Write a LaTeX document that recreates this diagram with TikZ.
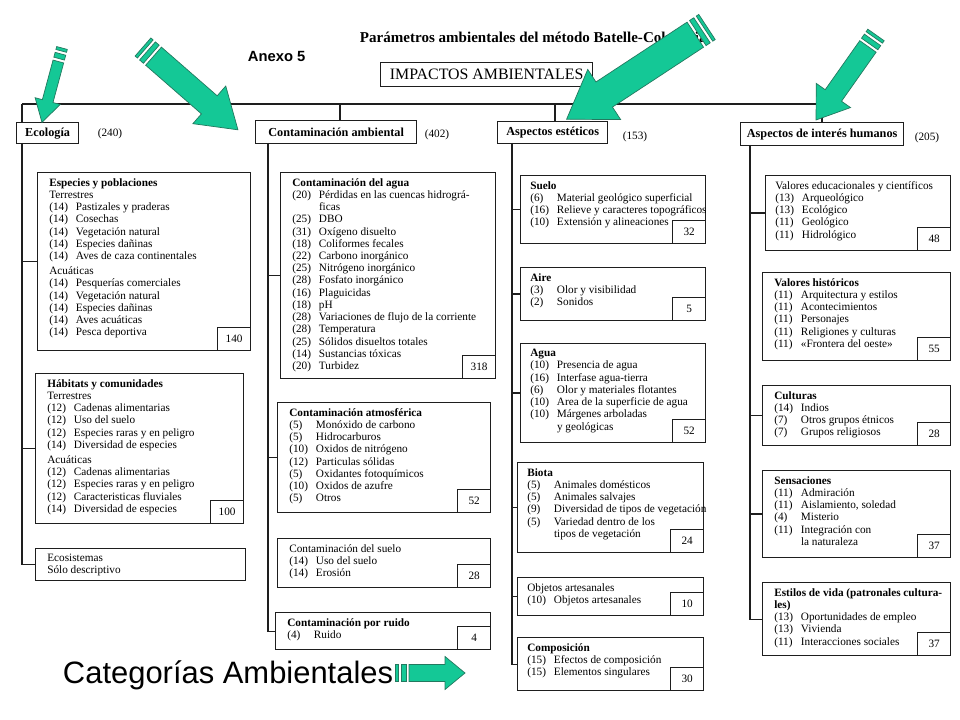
\documentclass[tikz,border=0pt]{standalone}
\usepackage{fontspec}
\setmainfont{Liberation Serif}
\newfontfamily\arialf{Liberation Sans}
\usepackage{tikz}
\usetikzlibrary{calc}
\definecolor{inkline}{HTML}{1E1E1E}
\definecolor{tealfill}{HTML}{14C896}
\definecolor{tealedge}{HTML}{23795F}
\newcommand{\boxfont}{\fontsize{8}{8.7}\selectfont}
\newcommand{\itm}[2]{\makebox[19pt][l]{(#1)}#2}
\newcommand{\cnt}[1]{\hspace*{19pt}#1}
% flecha verde con dos franjas en la cola
\newcommand{\grnarrow}[6]{%
  \begin{scope}[shift={#1},rotate=#2]
    \filldraw[greenarrow] (0,-#4) rectangle (3,#4);
    \filldraw[greenarrow] (6,-#4) rectangle (11,#4);
    \filldraw[greenarrow] (14,-#4) -- ({#3-#6},-#4) -- ({#3-#6},-#5) -- (#3,0)
      -- ({#3-#6},#5) -- ({#3-#6},#4) -- (14,#4) -- cycle;
  \end{scope}}
\tikzset{
  spine/.style={draw=inkline,line width=0.9pt},
  itembox/.style 2 args={draw=inkline,line width=0.9pt,anchor=north west,inner sep=0pt,
    minimum width=#1*0.025cm,minimum height=#2*0.025cm},
  catbox/.style 2 args={itembox={#1}{#2},font=\fontsize{8.7}{10}\selectfont\bfseries},
  cattot/.style={font=\boxfont,inner sep=0pt},
  inbox/.style={anchor=north west,align=left,inner sep=0pt,font=\boxfont},
  score/.style={draw=inkline,line width=0.9pt,anchor=south east,inner sep=0pt,
    minimum width=0.825cm,minimum height=0.575cm,font=\boxfont},
  greenarrow/.style={fill=tealfill,draw=tealedge,line width=0.5pt,line join=miter}
}
\begin{document}
\begin{tikzpicture}[x=0.025cm,y=-0.025cm]
\useasboundingbox[fill=white] (0,0) rectangle (960,720);

% cabecera
\node[anchor=west,font=\fontsize{10.7}{12}\selectfont\bfseries] (titulo) at (355,37)
  {Parámetros ambientales del método Batelle-Columbia};
\node[anchor=west,font=\arialf\bfseries\fontsize{10.5}{12}\selectfont] (anexo) at (243,56) {Anexo 5};
\node[itembox={212}{24},font=\fontsize{11.3}{12}\selectfont] (impactos) at (380,62) {IMPACTOS AMBIENTALES};

% categorias
\coordinate (s1) at (22,104);
\coordinate (s2) at (340,104);
\coordinate (s3) at (555,104);
\coordinate (s4) at (822,104);
\draw[spine] (s1) -- (s4);

\node[catbox={62}{21}] (ecol) at (16,122) {Ecología};
\node[cattot] (ecol-n) at (110,134) {(240)};
\node[catbox={161}{23}] (conta) at (255,120) {Contaminación ambiental};
\node[cattot] (conta-n) at (437,135) {(402)};
\node[catbox={110}{22}] (estet) at (497,121) {Aspectos estéticos};
\node[cattot] (estet-n) at (635,137) {(153)};
\node[catbox={163}{23}] (human) at (740,122) {Aspectos de interés humanos};
\node[cattot] (human-n) at (927,138) {(205)};

\draw[spine] (s1) -- (s1 |- ecol.north);
\draw[spine] (s2) -- (s2 |- conta.north);
\draw[spine] (s3) -- (s3 |- estet.north);
\draw[spine] (s4) -- (s4 |- human.north);

% Ecologia
\node[itembox={213}{178}] (esp) at (37,172) {};
\node[inbox] (esp-t) at ([shift={(12,6)}]esp.north west) {\textbf{Especies y poblaciones}\\
  Terrestres\\ \itm{14}{Pastizales y praderas}\\ \itm{14}{Cosechas}\\
  \itm{14}{Vegetación natural}\\ \itm{14}{Especies dañinas}\\
  \itm{14}{Aves de caza continentales}\\[2pt]
  Acuáticas\\ \itm{14}{Pesquerías comerciales}\\ \itm{14}{Vegetación natural}\\
  \itm{14}{Especies dañinas}\\ \itm{14}{Aves acuáticas}\\ \itm{14}{Pesca deportiva}};
\node[score] (esp-s) at (esp.south east) {140};

\node[itembox={208}{150}] (hab) at (35,373) {};
\node[inbox] (hab-t) at ([shift={(12,6)}]hab.north west) {\textbf{Hábitats y comunidades}\\
  Terrestres\\ \itm{12}{Cadenas alimentarias}\\ \itm{12}{Uso del suelo}\\
  \itm{12}{Especies raras y en peligro}\\ \itm{14}{Diversidad de especies}\\[2pt]
  Acuáticas\\ \itm{12}{Cadenas alimentarias}\\ \itm{12}{Especies raras y en peligro}\\
  \itm{12}{Caracteristicas fluviales}\\ \itm{14}{Diversidad de especies}};
\node[score] (hab-s) at (hab.south east) {100};

\node[itembox={210}{32}] (eco) at (35,548) {};
\node[inbox] (eco-t) at ([shift={(12,6)}]eco.north west) {Ecosistemas\\ Sólo descriptivo};

\coordinate (k1) at (22,143);
\draw[spine] (k1) |- (eco.west);
\draw[spine] (k1 |- esp.west) -- (esp.west);
\draw[spine] (k1 |- hab.west) -- (hab.west);

% Contaminacion
\node[itembox={215}{206}] (agua) at (280,172) {};
\node[inbox] (agua-t) at ([shift={(12,6)}]agua.north west) {\textbf{Contaminación del agua}\\
  \itm{20}{Pérdidas en las cuencas hidrográ-}\\ \cnt{ficas}\\ \itm{25}{DBO}\\
  \itm{31}{Oxígeno disuelto}\\ \itm{18}{Coliformes fecales}\\ \itm{22}{Carbono inorgánico}\\
  \itm{25}{Nitrógeno inorgánico}\\ \itm{28}{Fosfato inorgánico}\\ \itm{16}{Plaguicidas}\\
  \itm{18}{pH}\\ \itm{28}{Variaciones de flujo de la corriente}\\ \itm{28}{Temperatura}\\
  \itm{25}{Sólidos disueltos totales}\\ \itm{14}{Sustancias tóxicas}\\ \itm{20}{Turbidez}};
\node[score] (agua-s) at (agua.south east) {318};

\node[itembox={213}{110}] (atmos) at (277,402) {};
\node[inbox] (atmos-t) at ([shift={(12,6)}]atmos.north west) {\textbf{Contaminación atmosférica}\\
  \itm{5}{Monóxido de carbono}\\ \itm{5}{Hidrocarburos}\\ \itm{10}{Oxidos de nitrógeno}\\
  \itm{12}{Particulas sólidas}\\ \itm{5}{Oxidantes fotoquímicos}\\
  \itm{10}{Oxidos de azufre}\\ \itm{5}{Otros}};
\node[score] (atmos-s) at (atmos.south east) {52};

\node[itembox={213}{49}] (suelo) at (277,538) {};
\node[inbox] (suelo-t) at ([shift={(12,6)}]suelo.north west) {Contaminación del suelo\\
  \itm{14}{Uso del suelo}\\ \itm{14}{Erosión}};
\node[score] (suelo-s) at (suelo.south east) {28};

\node[itembox={215}{37}] (ruido) at (275,612) {};
\node[inbox] (ruido-t) at ([shift={(12,6)}]ruido.north west) {\textbf{Contaminación por ruido}\\
  \itm{4}{Ruido}};
\node[score] (ruido-s) at (ruido.south east) {4};

\coordinate (k2) at (268,143);
\draw[spine] (k2) |- (ruido.west);
\draw[spine] (k2 |- agua.west) -- (agua.west);
\draw[spine] (k2 |- atmos.west) -- (atmos.west);

% Aspectos esteticos
\node[itembox={185}{68}] (sue) at (520,175) {};
\node[inbox] (sue-t) at ([shift={(10,6)}]sue.north west) {\textbf{Suelo}\\
  \itm{6}{Material geológico superficial}\\ \itm{16}{Relieve y caracteres topográficos}\\
  \itm{10}{Extensión y alineaciones}};
\node[score] (sue-s) at (sue.south east) {32};

\node[itembox={185}{53}] (aire) at (520,267) {};
\node[inbox] (aire-t) at ([shift={(10,6)}]aire.north west) {\textbf{Aire}\\
  \itm{3}{Olor y visibilidad}\\ \itm{2}{Sonidos}};
\node[score] (aire-s) at (aire.south east) {5};

\node[itembox={185}{99}] (aguab) at (520,343) {};
\node[inbox] (aguab-t) at ([shift={(10,6)}]aguab.north west) {\textbf{Agua}\\
  \itm{10}{Presencia de agua}\\ \itm{16}{Interfase agua-tierra}\\
  \itm{6}{Olor y materiales flotantes}\\ \itm{10}{Area de la superficie de agua}\\
  \itm{10}{Márgenes arboladas}\\ \cnt{y geológicas}};
\node[score] (aguab-s) at (aguab.south east) {52};

\node[itembox={186}{90}] (biota) at (517,462) {};
\node[inbox] (biota-t) at ([shift={(10,6)}]biota.north west) {\textbf{Biota}\\
  \itm{5}{Animales domésticos}\\ \itm{5}{Animales salvajes}\\
  \itm{9}{Diversidad de tipos de vegetación}\\ \itm{5}{Variedad dentro de los}\\
  \cnt{tipos de vegetación}};
\node[score] (biota-s) at (biota.south east) {24};

\node[itembox={186}{38}] (obj) at (517,577) {};
\node[inbox] (obj-t) at ([shift={(10,6)}]obj.north west) {Objetos artesanales\\
  \itm{10}{Objetos artesanales}};
\node[score] (obj-s) at (obj.south east) {10};

\node[itembox={186}{53}] (comp) at (517,637) {};
\node[inbox] (comp-t) at ([shift={(10,6)}]comp.north west) {\textbf{Composición}\\
  \itm{15}{Efectos de composición}\\ \itm{15}{Elementos singulares}};
\node[score] (comp-s) at (comp.south east) {30};

\coordinate (k3) at (512,143);
\draw[spine] (k3) |- (comp.west);
\foreach \b in {sue,aire,aguab,biota,obj}
  \draw[spine] (k3 |- \b.west) -- (\b.west);

% Aspectos de interes humano
\node[itembox={185}{75}] (edu) at (765,175) {};
\node[inbox] (edu-t) at ([shift={(10,6)}]edu.north west) {Valores educacionales y científicos\\
  \itm{13}{Arqueológico}\\ \itm{13}{Ecológico}\\ \itm{11}{Geológico}\\ \itm{11}{Hidrológico}};
\node[score] (edu-s) at (edu.south east) {48};

\node[itembox={188}{88}] (hist) at (762,272) {};
\node[inbox] (hist-t) at ([shift={(12,6)}]hist.north west) {\textbf{Valores históricos}\\
  \itm{11}{Arquitectura y estilos}\\ \itm{11}{Acontecimientos}\\ \itm{11}{Personajes}\\
  \itm{11}{Religiones y culturas}\\ \itm{11}{«Frontera del oeste»}};
\node[score] (hist-s) at (hist.south east) {55};

\node[itembox={188}{60}] (cult) at (762,385) {};
\node[inbox] (cult-t) at ([shift={(12,6)}]cult.north west) {\textbf{Culturas}\\
  \itm{14}{Indios}\\ \itm{7}{Otros grupos étnicos}\\ \itm{7}{Grupos religiosos}};
\node[score] (cult-s) at (cult.south east) {28};

\node[itembox={188}{87}] (sens) at (762,470) {};
\node[inbox] (sens-t) at ([shift={(12,6)}]sens.north west) {\textbf{Sensaciones}\\
  \itm{11}{Admiración}\\ \itm{11}{Aislamiento, soledad}\\ \itm{4}{Misterio}\\
  \itm{11}{Integración con}\\ \cnt{la naturaleza}};
\node[score] (sens-s) at (sens.south east) {37};

\node[itembox={188}{73}] (estil) at (762,582) {};
\node[inbox] (estil-t) at ([shift={(12,6)}]estil.north west) {\textbf{Estilos de vida (patronales cultura-}\\
  \textbf{les)}\\ \itm{13}{Oportunidades de empleo}\\ \itm{13}{Vivienda}\\
  \itm{11}{Interacciones sociales}};
\node[score] (estil-s) at (estil.south east) {37};

\coordinate (k4) at (750,145);
\draw[spine] (k4) |- (estil.west);
\foreach \b in {edu,cult,sens}
  \draw[spine] (k4 |- \b.west) -- (\b.west);

% pie
\node[anchor=west,font=\arialf\fontsize{22}{24}\selectfont] (pie) at (58,675) {Categorías Ambientales};

% flechas verdes
\grnarrow{(62,48)}{-105.1}{77}{5.5}{13}{22}
\grnarrow{(143,47)}{-41.1}{126}{12}{25}{38}
\grnarrow{(707,27)}{-146.7}{168}{15}{30}{45}
\grnarrow{(876,35)}{-125.2}{104}{10}{21}{30}
\grnarrow{(395,673)}{0}{70}{8.5}{16.5}{20}
\end{tikzpicture}
\end{document}
